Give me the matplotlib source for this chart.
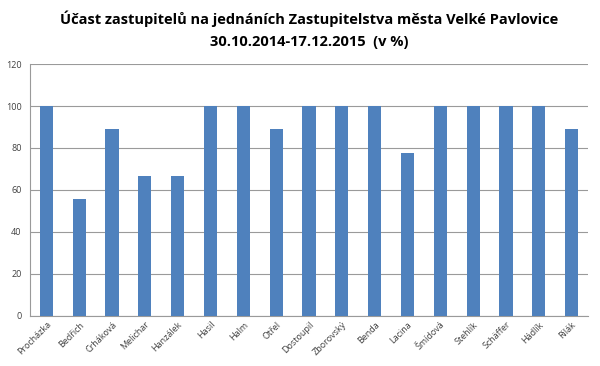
import matplotlib.pyplot as plt

names = ["Procházka", "Bedřich", "Crháková", "Melichar", "Hanzálek", "Hasil", "Halm",
         "Otřel", "Dostoupil", "Zborovský", "Benda", "Lacina", "Šmídová", "Stehlík",
         "Schäffer", "Hádlík", "Rilák"]
ucast = [100, 55.6, 88.9, 66.7, 66.7, 100, 100, 88.9, 100, 100, 100, 77.8, 100, 100,
         100, 100, 88.9]
y_ticks = [0, 20, 40, 60, 80, 100, 120]

plt.rcParams['font.family'] = ['Open Sans', 'DejaVu Sans']

fig = plt.figure(figsize=(6, 3.66), dpi=100)
ax = fig.add_axes([0.05, 0.137, 0.93, 0.688])

x = range(len(names))
ax.bar(x, ucast, width=0.4, color="#4F81BD", zorder=3)

ax.set_ylim(0, 120)
ax.set_xlim(-0.5, len(names) - 0.5)
ax.set_yticks(y_ticks)
ax.set_yticklabels([str(t) for t in y_ticks], fontsize=6.5, color="#404040")
ax.set_xticks(list(x))
ax.set_xticklabels(names, rotation=45, ha="right", rotation_mode="anchor",
                   fontsize=6.5, color="#404040")
ax.tick_params(axis="both", length=0, pad=6)
ax.tick_params(axis="x", pad=3)
ax.grid(axis="y", color="#9a9a9a", linewidth=0.8, zorder=0)
for s in ["top", "right"]:
    ax.spines[s].set_visible(False)
ax.spines["left"].set_color("#9a9a9a")
ax.spines["bottom"].set_color("#9a9a9a")

fig.text(0.515, 0.95, "Účast zastupitelů na jednáních Zastupitelstva města Velké Pavlovice",
         ha="center", va="center", fontsize=10.5, fontweight="bold")
fig.text(0.515, 0.885, "30.10.2014-17.12.2015  (v %)",
         ha="center", va="center", fontsize=10.5, fontweight="bold")

fig.savefig("out.png", dpi=100)
